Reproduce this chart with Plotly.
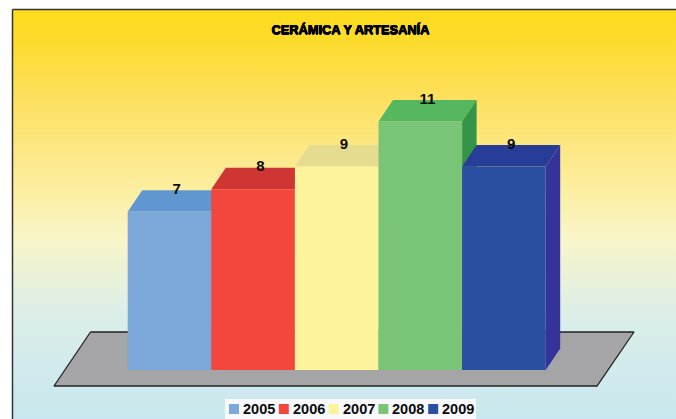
import plotly.graph_objects as go

years = ["2005", "2006", "2007", "2008", "2009"]
values = [7, 8, 9, 11, 9]
front_colors = ["#7ba7d9", "#f3473d", "#fdf39b", "#79c477", "#2b4fa0"]
top_colors = ["#6097d0", "#cf3532", "#e6dc90", "#55b85e", "#273d98"]
side_colors = ["#5a8bc0", "#b02c2a", "#d8ce82", "#349447", "#34339a"]
title = "CERÁMICA Y ARTESANÍA"

W, H = 676, 419
PX_X = 83.6          # pixels per category
PX_Y = 22.6          # pixels per value unit
X0_PX, Y0_PX = 169.5, 370
DX, DY = 14.5 / PX_X, 21.5 / PX_Y   # oblique depth
FONT = "Liberation Sans, Arial, sans-serif"
THICK = "0.4px 0 0 #000, -0.4px 0 0 #000, 0 0.6px 0 #000, 0 -0.6px 0 #000"


def xv(px):
    return (px - X0_PX) / PX_X


def yv(py):
    return (Y0_PX - py) / PX_Y


fig = go.Figure()

# Gradient background with frame (extends past right and bottom edges)
fig.add_trace(go.Scatter(
    x=[xv(12.5), xv(700), xv(700), xv(12.5), xv(12.5)],
    y=[yv(9.5), yv(9.5), yv(440), yv(440), yv(9.5)],
    mode="lines", fill="toself", line=dict(color="#333333", width=1.5),
    fillgradient=dict(
        type="vertical",
        start=yv(419), stop=yv(9.5),
        colorscale=[[0, "#c8e7ef"], [0.26, "#dceee8"], [0.44, "#f8f5c8"],
                    [0.55, "#fcefa4"], [0.78, "#fde060"], [0.93, "#fddb2a"], [1, "#fddc1c"]],
    ),
    hoverinfo="skip", showlegend=False,
))

# Floor
fig.add_trace(go.Scatter(
    x=[xv(90.5), xv(634), xv(597), xv(54), xv(90.5)],
    y=[yv(332), yv(332), yv(386), yv(386), yv(332)],
    mode="lines", fill="toself", fillcolor="#a5a4a7",
    line=dict(color="#222222", width=1.3),
    hoverinfo="skip", showlegend=False,
))

# Tops and sides, left to right
for i, (yr, v) in enumerate(zip(years, values)):
    l, r = i - 0.5, i + 0.5
    fig.add_trace(go.Scatter(
        x=[l, r, r + DX, l + DX, l], y=[v, v, v + DY, v + DY, v],
        mode="lines", fill="toself", fillcolor=top_colors[i], line=dict(width=0),
        hoverinfo="skip", showlegend=False))
    fig.add_trace(go.Scatter(
        x=[r, r + DX, r + DX, r, r], y=[0, DY, v + DY, v, 0],
        mode="lines", fill="toself", fillcolor=side_colors[i], line=dict(width=0),
        hoverinfo="skip", showlegend=False))

# Value labels
fig.add_trace(go.Scatter(
    x=[i + DX / 2 for i in range(len(values))],
    y=[v + DY for v in values],
    mode="text", text=[str(v) for v in values], textposition="middle center",
    textfont=dict(family=FONT, size=15, color="#0a0a0a", weight="bold"),
    hoverinfo="skip", showlegend=False))

# Front faces on an overlaid axis pair so they sit above the tops and sides
for i, (yr, v) in enumerate(zip(years, values)):
    fig.add_trace(go.Bar(
        x=[i], y=[v], width=1, name=yr, xaxis="x2", yaxis="y2",
        marker=dict(color=front_colors[i], line=dict(width=0)), showlegend=False))

shapes = [dict(type="rect", xref="paper", yref="paper", layer="above",
               x0=225 / W, x1=476 / W, y0=0, y1=1 - 399 / H,
               fillcolor="#f8f9fd", line=dict(width=0))]
annotations = []
for i, yr in enumerate(years):
    sx = 229 + i * 49.8
    shapes.append(dict(type="rect", xref="paper", yref="paper", layer="above",
                       x0=sx / W, x1=(sx + 10) / W,
                       y0=1 - 414 / H, y1=1 - 404 / H,
                       fillcolor=front_colors[i], line=dict(width=0)))
    annotations.append(dict(xref="paper", yref="paper", x=(sx + 13) / W,
                            y=1 - 408.5 / H, xanchor="left", yanchor="middle",
                            text=yr, showarrow=False, xshift=-1,
                            font=dict(family=FONT, size=14.5, color="#0a0a0a", weight="bold")))

x_range = [xv(0), xv(W)]
y_range = [yv(H), yv(0)]
fig.update_layout(
    width=W, height=H, margin=dict(l=0, r=0, t=0, b=0),
    paper_bgcolor="white", plot_bgcolor="white", barmode="overlay", showlegend=False,
    title=dict(text=title, x=350.5 / W, xanchor="center", xref="paper",
               y=1 - 30 / H, yanchor="middle", yref="paper",
               font=dict(family=FONT, size=12.8, color="#000000", weight="bold", shadow=THICK)),
    xaxis=dict(range=x_range, visible=False, fixedrange=True),
    yaxis=dict(range=y_range, visible=False, fixedrange=True),
    xaxis2=dict(range=x_range, visible=False, fixedrange=True, overlaying="x"),
    yaxis2=dict(range=y_range, visible=False, fixedrange=True, overlaying="y"),
    shapes=shapes, annotations=annotations,
)

fig.write_html("out.html", config={"displayModeBar": False},
               post_script="document.body.style.margin='0';document.body.style.overflow='hidden';")
